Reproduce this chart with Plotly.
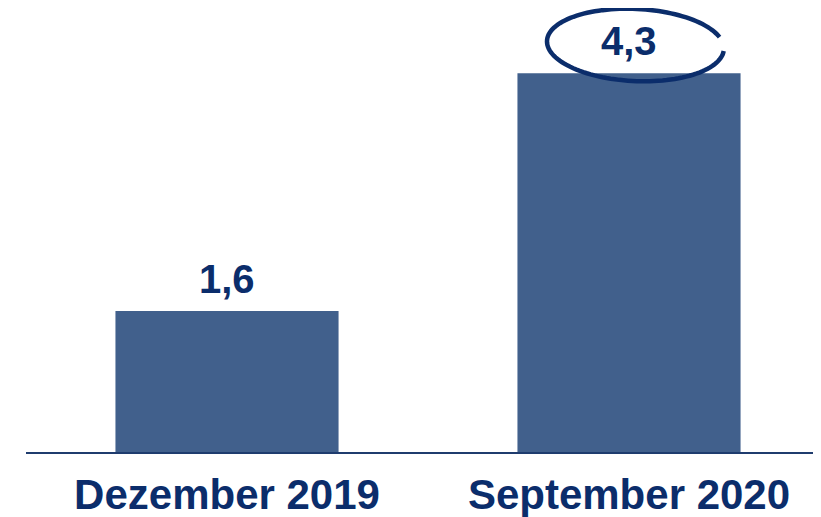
import numpy as np
import plotly.graph_objects as go

categories = ["Dezember 2019", "September 2020"]
values = [1.6, 4.3]
value_labels = ["1,6", "4,3"]
highlight_index = 1

bar_color = "#41608C"
text_color = "#0B2D6B"
font_family = "Liberation Sans, Arial, sans-serif"

fig = go.Figure()
fig.add_trace(go.Bar(
    x=list(range(len(categories))), y=values,
    marker=dict(color=bar_color, line=dict(width=0)),
    width=0.555, hoverinfo="skip",
))

for i, (v, t) in enumerate(zip(values, value_labels)):
    fig.add_annotation(x=i, y=v, text="<b>%s</b>" % t, showarrow=False,
                       yanchor="bottom", yshift=8,
                       font=dict(family=font_family, size=40, color=text_color))

# hand-drawn ellipse around highlighted value
v = values[highlight_index]
xc, yc = highlight_index + 0.016, v + 0.32
rx, ry = 0.22, 0.41
th = np.linspace(np.deg2rad(18), np.deg2rad(18 + 338), 120)
tilt = -0.04
xs = xc + rx * np.cos(th)
ys = yc + ry * np.sin(th) + tilt * np.cos(th)
path = "M " + " L ".join("%.4f,%.4f" % (a, b) for a, b in zip(xs, ys))
fig.add_shape(type="path", path=path, xref="x", yref="y",
              line=dict(color=text_color, width=4.5))

fig.update_layout(
    width=821, height=517,
    margin=dict(l=18, r=0, t=0, b=73),
    paper_bgcolor="white", plot_bgcolor="white",
    showlegend=False,
    xaxis=dict(range=[-0.5, 1.4975], tickmode="array",
               tickvals=list(range(len(categories))),
               ticktext=["<b>%s</b>" % c for c in categories],
               tickfont=dict(family=font_family, size=42, color=text_color),
               showline=True, linecolor="#1F3C6E", linewidth=2,
               showgrid=False, zeroline=False, ticks="", ticklabelstandoff=5,
               fixedrange=True),
    yaxis=dict(range=[0, 5.04], visible=False, showgrid=False, zeroline=False,
               fixedrange=True),
)

fig.write_html("out.html", config={"displayModeBar": False})
